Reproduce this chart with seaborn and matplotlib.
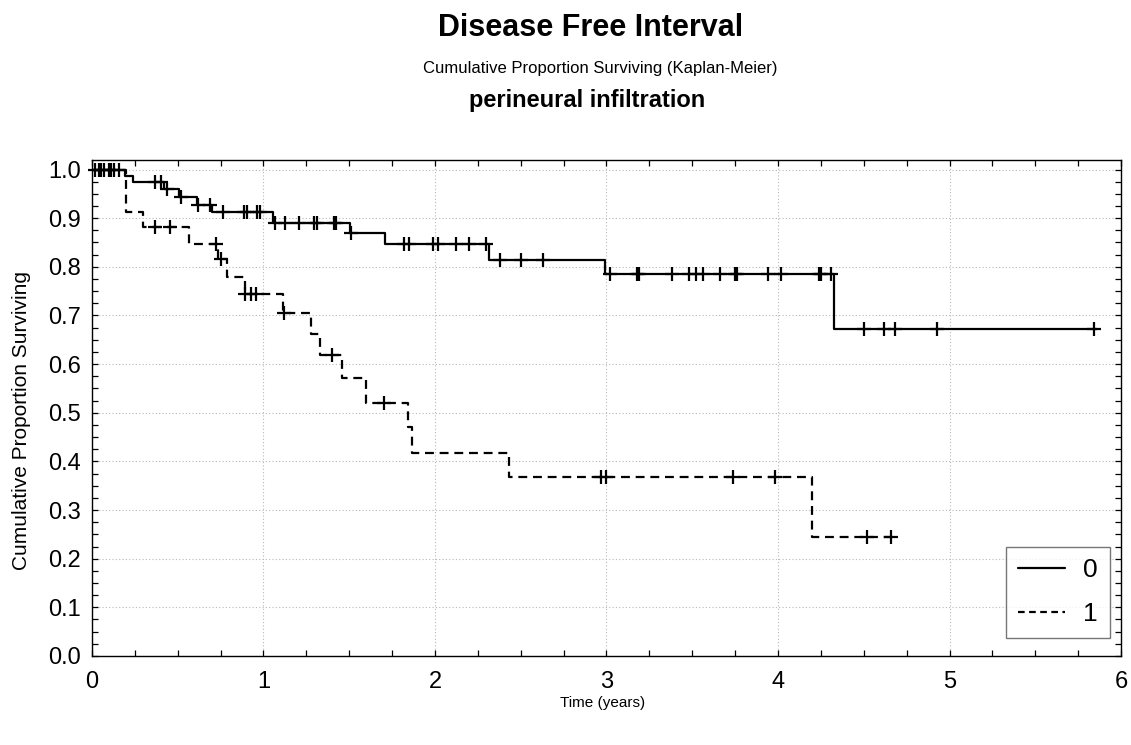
import numpy as np
import pandas as pd
import matplotlib
matplotlib.use("Agg")
import matplotlib.pyplot as plt
import seaborn as sns
from matplotlib.lines import Line2D

# ---------------- data ----------------
# group 0 (no perineural infiltration) : step times and survival after each step
g0_times = [0.19, 0.24, 0.42, 0.51, 0.61, 0.70, 1.057, 1.504, 1.707, 2.316, 2.993, 4.326]
g0_surv = [0.987, 0.974, 0.960, 0.943, 0.928, 0.912, 0.890, 0.869, 0.846, 0.815, 0.785, 0.672]
g0_cens = [0.02, 0.04, 0.07, 0.10, 0.13, 0.16, 0.37, 0.40, 0.44, 0.52, 0.62, 0.69,
           0.765, 0.885, 0.905, 0.963, 0.978, 1.066, 1.128, 1.205, 1.296, 1.315,
           1.41, 1.42, 1.51, 1.82, 1.85, 1.99, 2.02, 2.12, 2.20, 2.30, 2.38, 2.50,
           2.63, 3.02, 3.18, 3.19, 3.38, 3.48, 3.52, 3.56, 3.66, 3.75, 3.76, 3.94,
           4.02, 4.24, 4.25, 4.31, 4.50, 4.62, 4.68, 4.925, 5.84]
g0_end = 5.86

# group 1 (perineural infiltration present)
g1_times = [0.197, 0.30, 0.566, 0.735, 0.79, 0.89, 1.115, 1.28, 1.33, 1.455, 1.60,
            1.84, 1.867, 2.43, 4.196]
g1_surv = [0.912, 0.882, 0.847, 0.816, 0.780, 0.744, 0.705, 0.662, 0.619, 0.571,
           0.521, 0.470, 0.417, 0.367, 0.245]
g1_cens = [0.05, 0.11, 0.366, 0.457, 0.726, 0.75, 0.895, 0.93, 0.955, 1.12, 1.40,
           1.70, 2.97, 3.00, 3.74, 3.98, 4.52, 4.66]
g1_end = 4.68

group_labels = ["0", "1"]
title = "Disease Free Interval"
subtitle = "Cumulative Proportion Surviving (Kaplan-Meier)"
subtitle2 = "perineural infiltration"
xlabel = "Time (years)"
ylabel = "Cumulative Proportion Surviving"

# ---------------- style ----------------
sns.set_style("white")
FAM = ["Liberation Sans Narrow", "Liberation Sans", "DejaVu Sans"]
plt.rcParams["font.family"] = FAM
for k in ("text.color", "axes.labelcolor", "xtick.color", "ytick.color"):
    plt.rcParams[k] = "black"

fig = plt.figure(figsize=(11.31, 7.45), dpi=100)
ax = fig.add_axes([0.0813, 0.1195, 0.9099, 0.6657])

def step_frame(times, surv, end):
    x = [0.0] + list(times) + [end]
    y = [1.0] + list(surv) + [surv[-1]]
    return pd.DataFrame({"t": x, "s": y})

def cens_frame(times, surv, cens):
    lv = np.array([1.0] + list(surv))
    idx = np.searchsorted(np.array(times), np.array(cens), side="right")
    return pd.DataFrame({"t": cens, "s": lv[idx]})

lw = 1.6
d0 = step_frame(g0_times, g0_surv, g0_end)
d1 = step_frame(g1_times, g1_surv, g1_end)
sns.lineplot(data=d0, x="t", y="s", ax=ax, estimator=None, sort=False,
             drawstyle="steps-post", color="black", linewidth=lw)
sns.lineplot(data=d1, x="t", y="s", ax=ax, estimator=None, sort=False,
             drawstyle="steps-post", color="black", linewidth=lw,
             linestyle=(0, (4, 2.6)))

c0 = cens_frame(g0_times, g0_surv, g0_cens)
c1 = cens_frame(g1_times, g1_surv, g1_cens)
for c in (c0, c1):
    sns.scatterplot(data=c, x="t", y="s", ax=ax, marker="+", s=110,
                    color="black", linewidth=1.6, zorder=5, clip_on=False)

ax.set_xlim(0, 6)
ax.set_ylim(0, 1.0195)
ax.set_xticks(np.arange(0, 7, 1))
ax.set_xticks(np.arange(0, 6.01, 0.25), minor=True)
ax.set_yticks(np.arange(0, 1.01, 0.1))
ax.set_yticks(np.arange(0, 1.0195, 0.025), minor=True)
ax.set_xticklabels([f"{v:d}" for v in range(7)])
ax.set_yticklabels([f"{v:.1f}" for v in np.arange(0, 1.01, 0.1)])
ax.tick_params(which="both", direction="in", top=True, right=True,
               bottom=True, left=True, length=4, width=0.9, color="black")
ax.tick_params(axis="x", which="major", labelsize=17, pad=11)
ax.tick_params(axis="y", which="major", labelsize=17, pad=8)
ax.grid(True, which="major", color="#b8b8b8", linestyle=(0, (1, 2)), linewidth=0.8)
ax.set_axisbelow(True)
for sp in ax.spines.values():
    sp.set_color("black")
    sp.set_linewidth(1.0)
    sp.set_visible(True)

ax.set_xlabel("")
ax.set_ylabel("")
fig.text(0.533, 0.056, xlabel, ha="center", va="center", fontsize=11)
fig.text(0.019, 0.436, ylabel, ha="center", va="center", rotation=90, fontsize=15)

fig.text(0.522, 0.963, title, ha="center", va="center", fontsize=22, fontweight="bold")
fig.text(0.531, 0.908, subtitle, ha="center", va="center", fontsize=12)
fig.text(0.519, 0.865, subtitle2, ha="center", va="center", fontsize=17, fontweight="bold")

handles = [Line2D([], [], color="black", linewidth=lw),
           Line2D([], [], color="black", linewidth=lw, linestyle=(0, (3, 2)))]
leg = ax.legend(handles, group_labels, loc="lower right",
                bbox_to_anchor=(0.989, 0.036), fontsize=19, frameon=True,
                fancybox=False, edgecolor="#555555", handlelength=1.78,
                handletextpad=0.68, borderpad=0.45, labelspacing=0.75,
                borderaxespad=0)
leg.get_frame().set_linewidth(1.0)

fig.savefig("out.png", dpi=100)
